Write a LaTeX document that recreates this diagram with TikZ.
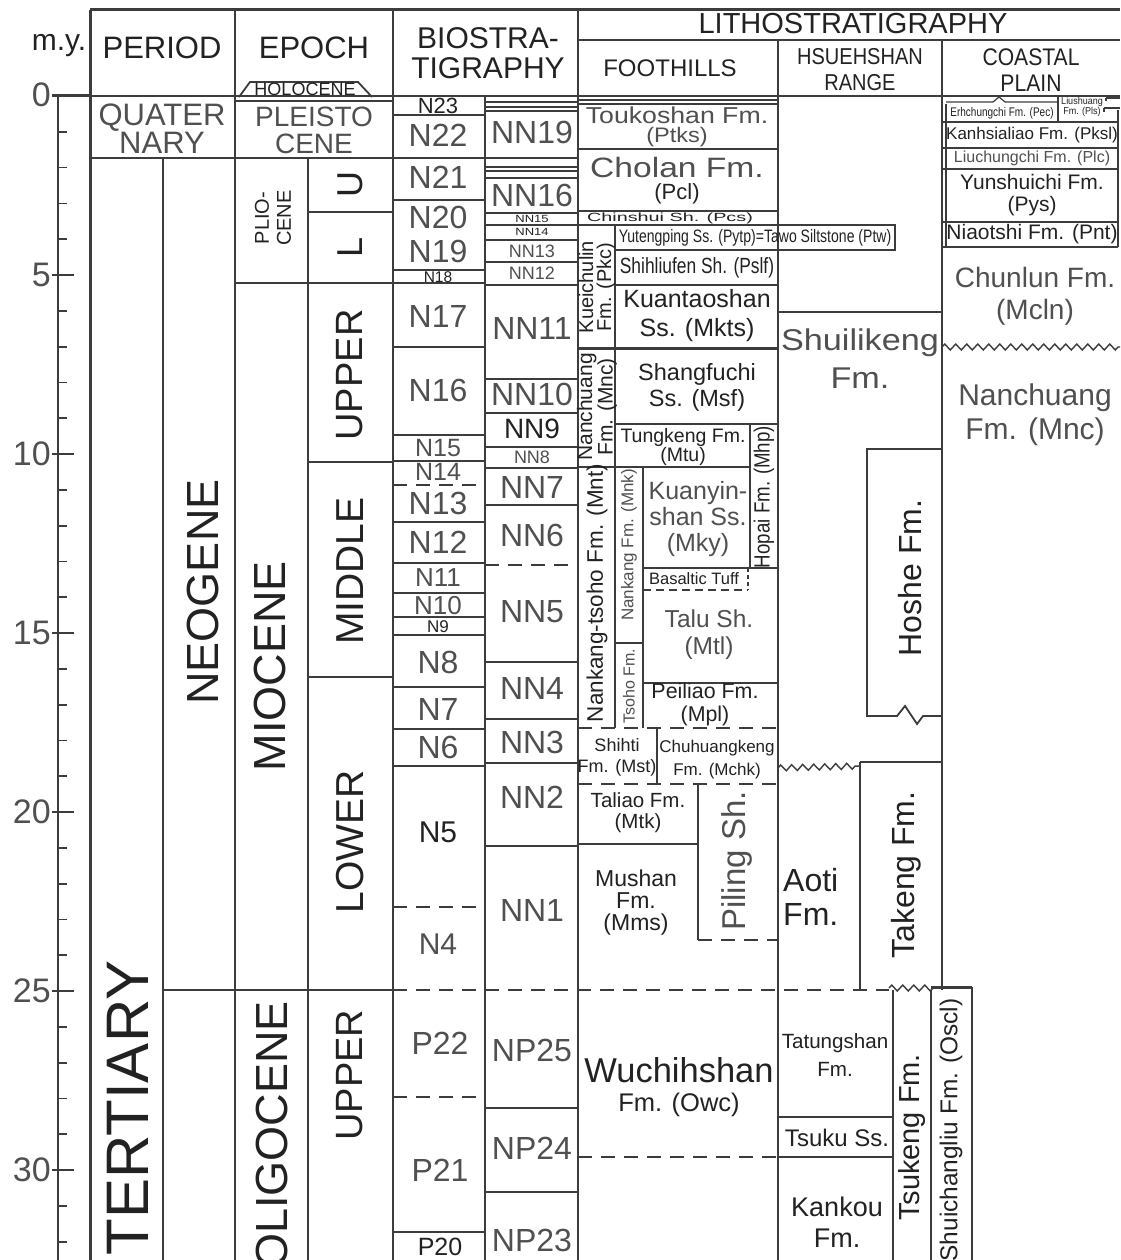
\documentclass[tikz,border=0pt]{standalone}
\usepackage{fontspec}
\setmainfont{Liberation Sans}
\usepackage{graphicx}
\usetikzlibrary{decorations.pathmorphing}
\definecolor{lc}{HTML}{3C3C3C}
\definecolor{tk}{HTML}{222222}
\definecolor{tg}{HTML}{505050}
\newcommand{\hsc}[2]{\scalebox{#1}[1]{#2}}
\begin{document}
\begin{tikzpicture}[x=1pt,y=-1pt,
  ln/.style={draw=lc, line width=1.8pt},
  thn/.style={draw=lc, line width=1.2pt},
  dsh/.style={draw=lc, line width=1.6pt, dash pattern=on 14pt off 9pt},
  frm/.style={draw=lc, line width=3pt},
  lb/.style={inner sep=0pt, text=tk, align=center},
  lg/.style={lb, text=tg},
  fz/.style 2 args={font=\fontsize{#1}{#2}\selectfont},
  zz/.style={draw=lc, line width=1.4pt, decorate, decoration={zigzag, segment length=11pt, amplitude=3pt}}]
\useasboundingbox (0,0) rectangle (1120,1260);
\fill[white] (0,0) rectangle (1120,1260);
% ---------- frame and header ----------
\draw[frm] (90,10) -- (1120,10);
\draw[frm] (90,10) -- (90,1260);
\draw[ln] (235,10) -- (235,1260);
\draw[ln] (393,10) -- (393,1260);
\draw[ln] (578,10) -- (578,1260);
\draw[ln] (578,40) -- (1120,40);
\draw[ln] (778,40) -- (778,1260);
\draw[ln] (942,40) -- (942,990);
\draw[frm] (52,96) -- (90,96);
\draw[ln] (90,96) -- (1120,96);
\node[lb,fz={30}{30}] (my) at (59,46) {m.y.};
\node[lb,fz={31}{31}] (period) at (162,48) {PERIOD};
\node[lb,fz={31}{31}] (epoch) at (314,48) {EPOCH};
\node[lb,fz={30}{30}] (bio) at (488,53) {BIOSTRA-\\TIGRAPHY};
\node[lb,fz={29}{29}] (litho) at (853,24) {LITHOSTRATIGRAPHY};
\node[lb,fz={24}{24}] (foot) at (670,68) {FOOTHILLS};
\node[lb,fz={23}{26}] (hsr) at (860,70) {\hsc{0.87}{HSUEHSHAN}\\\hsc{0.87}{RANGE}};
\node[lb,fz={24}{26}] (cpl) at (1031,70) {\hsc{0.88}{COASTAL}\\\hsc{0.88}{PLAIN}};
% ---------- age scale ----------
\draw[ln] (58,96) -- (58,1260);
\foreach \t in {1,...,32} { \draw[ln] (58,{96+35.8*\t}) -- (67,{96+35.8*\t}); }
\foreach \t in {5,10,...,30} { \draw[ln] (52,{96+35.8*\t}) -- (74,{96+35.8*\t}); }
\node[lg,fz={34}{34},anchor=east] (s0) at (51,95) {0};
\foreach \t in {5,10,...,30} { \node[lg,fz={34}{34},anchor=east] (s\t) at (51,{96+35.8*\t}) {\t}; }
% ---------- period ----------
\draw[ln] (90,158) -- (393,158);
\draw[ln] (163,158) -- (163,1260);
\draw[ln] (163,990) -- (393,990);
\node[lg,fz={31}{26}] (quat) at (162,129) {QUATER\\NARY};
\node[lb,fz={60}{60},rotate=90] (tert) at (128,1108) {TERTIARY};
\node[lb,fz={45}{45},rotate=90] (neog) at (203,592) {NEOGENE};
% ---------- epoch ----------
\draw[ln] (239,97) -- (250,82) -- (358,82) -- (372,97);
\draw[ln] (235,101) -- (393,101);
\node[lb,fz={18}{18}] (holo) at (305,89) {HOLOCENE};
\node[lg,fz={28}{27}] (pleist) at (314,130) {PLEISTO\\CENE};
\draw[ln] (308,158) -- (308,1260);
\draw[ln] (235,283) -- (393,283);
\draw[ln] (308,212) -- (393,212);
\draw[ln] (308,462) -- (393,462);
\draw[ln] (308,677) -- (393,677);
\node[lb,fz={20}{22},rotate=90] (plio) at (273,218) {PLIO-\\CENE};
\node[lb,fz={45}{45},rotate=90] (mio) at (270,666) {MIOCENE};
\node[lb,fz={45}{45},rotate=90] (olig) at (272,1135) {OLIGOCENE};
\node[lb,fz={36}{36},rotate=90] (u) at (350,185) {U};
\node[lb,fz={36}{36},rotate=90] (l) at (350,247) {L};
\node[lb,fz={38}{38},rotate=90] (upm) at (350,375) {UPPER};
\node[lb,fz={39}{39},rotate=90] (mid) at (350,571) {MIDDLE};
\node[lb,fz={39}{39},rotate=90] (low) at (350,842) {LOWER};
\node[lb,fz={38}{38},rotate=90] (upo) at (350,1075) {UPPER};
% ---------- biostratigraphy ----------
\draw[ln] (485,96) -- (485,1260);
\foreach \y in {115,200,270,283,347,435,461,522,563,593,617,635,687,729,766,1232} { \draw[ln] (393,\y) -- (485,\y); }
\draw[ln] (393,158) -- (578,158);
\foreach \y in {102,107,111,167,171,178,213,225,240,262,285,379,413,447,468,505,662,719,763,846,1108,1192} { \draw[ln] (485,\y) -- (578,\y); }
\draw[dsh] (393,485) -- (485,485);
\draw[dsh] (393,907) -- (485,907);
\draw[dsh] (393,1097) -- (485,1097);
\draw[dsh] (485,565) -- (578,565);
\draw[dsh] (393,990) -- (889,990);
\node[lb,fz={22}{22}] (n23) at (438,106) {N23};
\node[lg,fz={32}{32}] (n22) at (438,135) {N22};
\node[lg,fz={32}{32}] (n21) at (438,177) {N21};
\node[lg,fz={32}{32}] (n20) at (438,217) {N20};
\node[lg,fz={32}{32}] (n19) at (438,251) {N19};
\node[lb,fz={15.5}{15.5}] (n18) at (438,277) {N18};
\node[lg,fz={32}{32}] (n17) at (438,316) {N17};
\node[lg,fz={32}{32}] (n16) at (438,390) {N16};
\node[lg,fz={25}{25}] (n15) at (438,448) {N15};
\node[lg,fz={25}{25}] (n14) at (438,472) {N14};
\node[lg,fz={32}{32}] (n13) at (438,503) {N13};
\node[lg,fz={32}{32}] (n12) at (438,542) {N12};
\node[lg,fz={26}{26}] (n11) at (438,578) {N11};
\node[lg,fz={26}{26}] (n10) at (438,606) {N10};
\node[lb,fz={17}{17}] (n9) at (438,627) {N9};
\node[lg,fz={32}{32}] (n8) at (438,662) {N8};
\node[lg,fz={32}{32}] (n7) at (438,709) {N7};
\node[lg,fz={32}{32}] (n6) at (438,747) {N6};
\node[lb,fz={30}{30}] (n5) at (438,832) {N5};
\node[lg,fz={30}{30}] (n4) at (438,944) {N4};
\node[lg,fz={32}{32}] (p22) at (440,1043) {P22};
\node[lg,fz={32}{32}] (p21) at (440,1170) {P21};
\node[lb,fz={25}{25}] (p20) at (440,1247) {P20};
\node[lg,fz={32}{32}] (nn19) at (532,132) {NN19};
\node[lg,fz={32}{32}] (nn16) at (532,195) {NN16};
\node[lb,fz={13}{13}] (nn15) at (532,219) {\scalebox{1}[0.8]{NN15}};
\node[lb,fz={13}{13}] (nn14) at (532,232) {\scalebox{1}[0.8]{NN14}};
\node[lg,fz={18}{18}] (nn13) at (532,251) {NN13};
\node[lg,fz={18}{18}] (nn12) at (532,273) {NN12};
\node[lg,fz={32}{32}] (nn11) at (532,328) {NN11};
\node[lg,fz={32}{32}] (nn10) at (532,394) {NN10};
\node[lb,fz={28}{28}] (nn9) at (532,429) {NN9};
\node[lg,fz={18}{18}] (nn8) at (532,457) {NN8};
\node[lg,fz={32}{32}] (nn7) at (532,487) {NN7};
\node[lg,fz={32}{32}] (nn6) at (532,535) {NN6};
\node[lg,fz={32}{32}] (nn5) at (532,612) {NN5};
\node[lg,fz={32}{32}] (nn4) at (532,688) {NN4};
\node[lg,fz={32}{32}] (nn3) at (532,742) {NN3};
\node[lg,fz={32}{32}] (nn2) at (532,797) {NN2};
\node[lg,fz={32}{32}] (nn1) at (532,910) {NN1};
\node[lg,fz={32}{32}] (np25) at (532,1050) {NP25};
\node[lg,fz={32}{32}] (np24) at (532,1148) {NP24};
\node[lg,fz={32}{32}] (np23) at (532,1240) {NP23};
% ---------- foothills ----------
\draw[thn] (578,100) -- (778,100);
\draw[ln] (578,104) -- (778,104);
\draw[ln] (578,149) -- (778,149);
\draw[ln] (578,211) -- (778,211);
\draw[ln] (578,225) -- (778,225);
\draw[ln] (615,225) -- (615,728);
\draw[ln] (615,225) rectangle (895,250);
\draw[ln] (615,285) -- (778,285);
\draw[frm] (578,348) -- (778,348);
\draw[ln] (615,424) -- (778,424);
\draw[ln] (750,424) -- (750,568);
\draw[ln] (578,467) -- (750,467);
\draw[ln] (643,467) -- (643,728);
\draw[ln] (643,568) -- (778,568);
\draw[draw=lc, line width=1.4pt, dash pattern=on 8pt off 5pt] (643,590) -- (748,590);
\draw[draw=lc, line width=1.2pt, dash pattern=on 4pt off 3pt] (748,568) -- (748,590);
\draw[ln] (615,643) -- (643,643);
\draw[ln] (643,683) -- (778,683);
\draw[dsh] (578,728) -- (778,728);
\draw[ln] (657,728) -- (657,784);
\draw[dsh] (578,784) -- (778,784);
\draw[ln] (578,844) -- (698,844);
\draw[ln] (698,784) -- (698,940);
\draw[dsh] (698,940) -- (778,940);
\draw[dsh] (578,1157) -- (778,1157);
\node[lg,fz={23}{23}] (touk) at (677,115) {\hsc{1.16}{Toukoshan Fm.}};
\node[lg,fz={21}{21}] (ptks) at (677,137) {\hsc{1.12}{(Ptks)}};
\node[lg,fz={28}{28}] (chol) at (677,167) {\hsc{1.2}{Cholan Fm.}};
\node[lb,fz={22}{22}] (pcl) at (677,194) {(Pcl)};
\node[lb,fz={18}{18}] (chin) at (670,218.5) {\scalebox{1.1}[0.66]{Chinshui Sh. (Pcs)}};
\node[lb,fz={18}{18}] (yut) at (755,238) {\hsc{0.78}{Yutengping Ss. (Pytp)=Tawo Siltstone (Ptw)}};
\node[lb,fz={22}{22}] (shih) at (697,268) {\hsc{0.79}{Shihliufen Sh. (Pslf)}};
\node[lb,fz={20}{18},rotate=90] (kuei) at (597,287) {Kueichulin\\Fm. (Pkc)};
\node[lb,fz={21}{18},rotate=90] (nanch) at (597,407) {Nanchuang\\Fm. (Mnc)};
\node[lb,fz={25}{29}] (kuan) at (697,316) {Kuantaoshan\\Ss. (Mkts)};
\node[lb,fz={23.5}{26}] (shang) at (697,387) {Shangfuchi\\Ss. (Msf)};
\node[lb,fz={19.5}{19}] (tung) at (683,447) {Tungkeng Fm.\\(Mtu)};
\node[lb,fz={22}{22},rotate=90] (hopai) at (764,497) {\hsc{0.85}{Hopai Fm. (Mhp)}};
\node[lb,fz={22.5}{22.5},rotate=90] (nkt) at (597,593) {Nankang-tsoho Fm. (Mnt)};
\node[lg,fz={17}{17},rotate=90] (nkf) at (629,545) {Nankang Fm. (Mnk)};
\node[lg,fz={16}{16},rotate=90] (tsoho) at (629,686) {Tsoho Fm.};
\node[lg,fz={25}{26}] (kuany) at (698,519) {Kuanyin-\\shan Ss.\\(Mky)};
\node[lb,fz={16.5}{16.5}] (basal) at (694,579) {Basaltic Tuff};
\node[lg,fz={24.5}{27}] (talu) at (709,635) {Talu Sh.\\(Mtl)};
\node[lb,fz={21.4}{23}] (peil) at (705,704) {Peiliao Fm.\\(Mpl)};
\node[lb,fz={18}{21}] (shihti) at (617,757) {Shihti\\Fm. (Mst)};
\node[lb,fz={17}{23}] (chuh) at (717,760) {Chuhuangkeng\\Fm. (Mchk)};
\node[lb,fz={20.5}{21}] (tali) at (638,813) {Taliao Fm.\\(Mtk)};
\node[lb,fz={23}{22}] (mush) at (636,903) {Mushan\\Fm.\\(Mms)};
\node[lg,fz={33}{33},rotate=90] (piling) at (737,861) {Piling Sh.};
\node[lb,fz={34.5}{34}] (wuch) at (679,1070) {Wuchihshan};
\node[lb,fz={25.5}{25}] (owc) at (679,1105) {Fm. (Owc)};
% ---------- hsuehshan range ----------
\draw[ln] (778,312) -- (942,312);
\draw[ln] (942,449) -- (867,449) -- (867,716) -- (897,716) -- (905,706) -- (917,724) -- (923,716) -- (942,716);
\draw[zz] (778,768) -- (860,766);
\draw[ln] (860,762) -- (942,762);
\draw[ln] (860,762) -- (860,990);
\draw[zz] (889,988) -- (935,988);
\draw[ln] (893,990) -- (893,1260);
\draw[ln] (931,990) -- (931,1260);
\draw[frm] (931,987) -- (972,987);
\draw[ln] (972,987) -- (972,1260);
\draw[ln] (778,1117) -- (893,1117);
\draw[ln] (778,1157) -- (893,1157);
\node[lg,fz={30}{38}] (shui) at (860,359) {\hsc{1.14}{Shuilikeng}\\\hsc{1.14}{Fm.}};
\node[lb,fz={32}{32},rotate=90] (hoshe) at (910,578) {Hoshe Fm.};
\node[lb,fz={32}{34},align=left,anchor=west] (aoti) at (783,897) {Aoti\\Fm.};
\node[lb,fz={32}{32},rotate=90] (takeng) at (906,875) {Takeng Fm.};
\node[lb,fz={20.6}{28}] (tatung) at (835,1055) {Tatungshan\\Fm.};
\node[lb,fz={24}{24}] (tsuku) at (837,1138) {Tsuku Ss.};
\node[lb,fz={27}{31}] (kankou) at (837,1222) {Kankou\\Fm.};
\node[lb,fz={29}{29},rotate=90] (tsukeng) at (912,1137) {Tsukeng Fm.};
\node[lb,fz={24.4}{24},rotate=90] (shuich) at (951,1130) {Shuichangliu Fm. (Oscl)};
% ---------- coastal plain ----------
\draw[thn] (946,102) -- (993,102) -- (999,97) -- (1005,102) -- (1058,102);
\draw[thn] (1058,97) -- (1058,122);
\draw[thn] (1106,98) -- (1120,98);
\draw[thn] (1106,98) -- (1106,101);
\draw[thn] (1104,108) -- (1120,108);
\draw[thn] (1104,108) -- (1104,112);
\draw[thn] (946,104) -- (946,247);
\draw[thn] (1118,110) -- (1118,247);
\foreach \y in {122,148,169,222,247} { \draw[thn] (942,\y) -- (1118,\y); }
\draw[zz] (942,347) -- (1120,347);
\node[lb,fz={10}{10}] (liush) at (1082,107) {\hsc{0.9}{Liushuang}\\\hsc{0.9}{Fm. (Pls)}};
\node[lb,fz={12.5}{12}] (erh) at (1002,113) {\hsc{0.8}{Erhchungchi Fm. (Pec)}};
\node[lb,fz={17}{17}] (kanh) at (1032,135) {Kanhsialiao Fm. (Pksl)};
\node[lg,fz={16}{16}] (liuch) at (1032,158) {Liuchungchi Fm. (Plc)};
\node[lb,fz={21}{22}] (yuns) at (1032,195) {Yunshuichi Fm.\\(Pys)};
\node[lb,fz={21}{21}] (niao) at (1032,234) {Niaotshi Fm. (Pnt)};
\node[lg,fz={28}{32}] (chun) at (1035,296) {Chunlun Fm.\\(Mcln)};
\node[lg,fz={30}{34}] (nanc2) at (1035,415) {Nanchuang\\Fm. (Mnc)};
\end{tikzpicture}
\end{document}
